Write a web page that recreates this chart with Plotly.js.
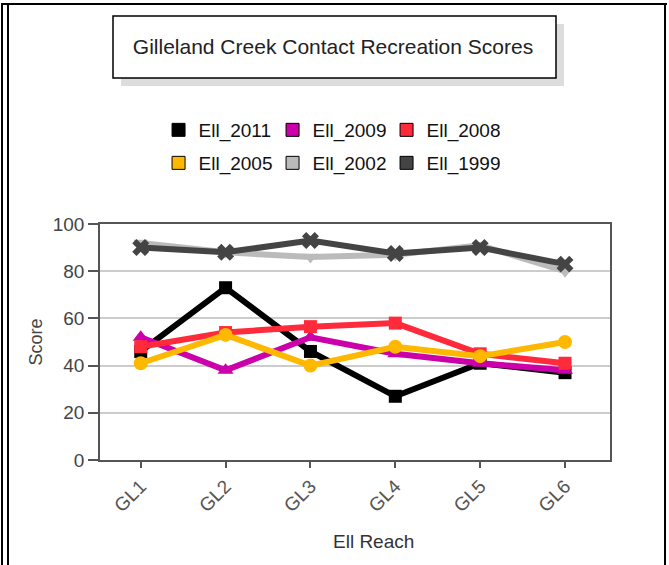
<!DOCTYPE html>
<html>
<head>
<meta charset="utf-8">
<script src="https://cdn.plot.ly/plotly-3.0.1.min.js"></script>
<style>
  html, body { margin: 0; padding: 0; background: #ffffff; }
  #wrap { position: relative; width: 669px; height: 565px; overflow: hidden; }
  #chart { position: absolute; left: 0; top: 0; width: 669px; height: 565px; }
  .frame { position: absolute; background: #000; }
</style>
</head>
<body>
<div id="wrap">
  <div id="chart"></div>
  <div class="frame" style="left:1px; top:3px; width:2px; height:600px;"></div>
  <div class="frame" style="left:7px; top:3px; width:2px; height:600px;"></div>
  <div class="frame" style="left:1px; top:3px; width:666px; height:2px;"></div>
  <div class="frame" style="left:664px; top:3px; width:2px; height:600px;"></div>
</div>
<script>
// ---- data ----
const reaches = ["GL1", "GL2", "GL3", "GL4", "GL5", "GL6"];
const seriesNames = ["Ell_2011", "Ell_2009", "Ell_2008", "Ell_2005", "Ell_2002", "Ell_1999"];
const ell2011 = [46, 73, 46, 27, 41, 37];
const ell2009 = [52, 38, 52, 45, 41, 38];
const ell2008 = [48, 54, 56.5, 58, 45, 41];
const ell2005 = [41, 53, 40, 48, 44, 50];
const ell2002 = [92, 88, 86, 87, 91, 80];
const ell1999 = [90, 88, 93, 87.5, 90, 83];
const yTicks = [0, 20, 40, 60, 80, 100];
const chartTitle = "Gilleland Creek Contact Recreation Scores";
const xTitle = "Ell Reach";
const yTitle = "Score";

// ---- styles ----
const seriesValues = [ell2011, ell2009, ell2008, ell2005, ell2002, ell1999];
const colors = ["#000000", "#cc00aa", "#ff2a3a", "#ffb800", "#bbbbbb", "#444444"];
const symbols = ["square", "triangle-up", "square", "circle", "triangle-down", "x"];
const msizes = [13, 14, 13, 14, 13, 15];
const FONT = "Liberation Sans, Arial, sans-serif";

const traces = [];
seriesValues.forEach((vals, i) => {
  traces.push({
    type: "scatter", mode: "lines+markers",
    x: reaches, y: vals, name: seriesNames[i],
    showlegend: false, legendgroup: seriesNames[i],
    line: { color: colors[i], width: 6 },
    marker: { color: colors[i], symbol: symbols[i], size: msizes[i] },
    hoverinfo: "x+y+name"
  });
});
// legend entries (square swatches), no plotted points
seriesValues.forEach((vals, i) => {
  traces.push({
    type: "scatter", mode: "markers",
    x: [null], y: [null], name: seriesNames[i],
    legendgroup: seriesNames[i], showlegend: true,
    legend: i < 3 ? "legend" : "legend2",
    marker: { color: colors[i], symbol: "square", size: 13, line: { color: "#000", width: 1 } }
  });
});

const legendCommon = {
  orientation: "h", xref: "container", yref: "container",
  xanchor: "left", yanchor: "middle",
  font: { family: FONT, size: 19, color: "#111" },
  bgcolor: "rgba(0,0,0,0)", borderwidth: 0,
  entrywidth: 69, entrywidthmode: "pixels",
  itemclick: false, itemdoubleclick: false
};

const layout = {
  width: 669, height: 565,
  paper_bgcolor: "#ffffff", plot_bgcolor: "#ffffff",
  margin: { l: 100, r: 59, t: 224, b: 105, pad: 0 },
  font: { family: FONT, size: 18, color: "#444" },
  title: {
    text: chartTitle, xref: "container", yref: "container",
    x: 333 / 669, y: 1 - 47 / 565, xanchor: "center", yanchor: "middle",
    font: { family: FONT, size: 21, color: "#222" }
  },
  showlegend: true,
  legend: Object.assign({}, legendCommon, { x: 0.237, y: 1 - 130 / 565 }),
  legend2: Object.assign({}, legendCommon, { x: 0.237, y: 1 - 163 / 565 }),
  xaxis: {
    type: "category", range: [-0.48, 5.53], categoryorder: "array", categoryarray: reaches,
    showline: true, linecolor: "#555", linewidth: 1.5, mirror: true,
    ticks: "outside", ticklen: 6, tickcolor: "#555", tickwidth: 1.5,
    tickangle: -45, tickfont: { family: FONT, size: 19, color: "#555" },
    showgrid: false, zeroline: false, automargin: false
  },
  yaxis: {
    range: [0, 100], tickvals: yTicks, ticktext: yTicks.map(String),
    showline: true, linecolor: "#555", linewidth: 1.5, mirror: true,
    ticks: "outside", ticklen: 10, tickcolor: "#555", tickwidth: 1.5,
    tickfont: { family: FONT, size: 19, color: "#444" },
    showgrid: true, gridcolor: "#cccccc", gridwidth: 1.5, zeroline: false, automargin: false,
    title: { text: yTitle, standoff: 5, font: { family: FONT, size: 18, color: "#444" } }
  },
  annotations: [
    { text: xTitle, xref: "paper", yref: "paper",
      x: (373 - 100) / 510, y: (460 - 541) / 236, xanchor: "center", yanchor: "middle",
      showarrow: false, font: { family: FONT, size: 19, color: "#333" } }
  ],
  shapes: [
    { type: "rect", xref: "paper", yref: "paper",
      x0: (121 - 100) / 510, x1: (564 - 100) / 510, y0: (460 - 86) / 236, y1: (460 - 24) / 236,
      fillcolor: "#dddddd", line: { width: 0 }, layer: "below" },
    { type: "rect", xref: "paper", yref: "paper",
      x0: (113 - 100) / 510, x1: (556 - 100) / 510, y0: (460 - 78) / 236, y1: (460 - 16) / 236,
      fillcolor: "#ffffff", line: { color: "#000", width: 1.5 }, layer: "below" }
  ]
};

Plotly.newPlot("chart", traces, layout, { displayModeBar: false });
</script>
</body>
</html>
